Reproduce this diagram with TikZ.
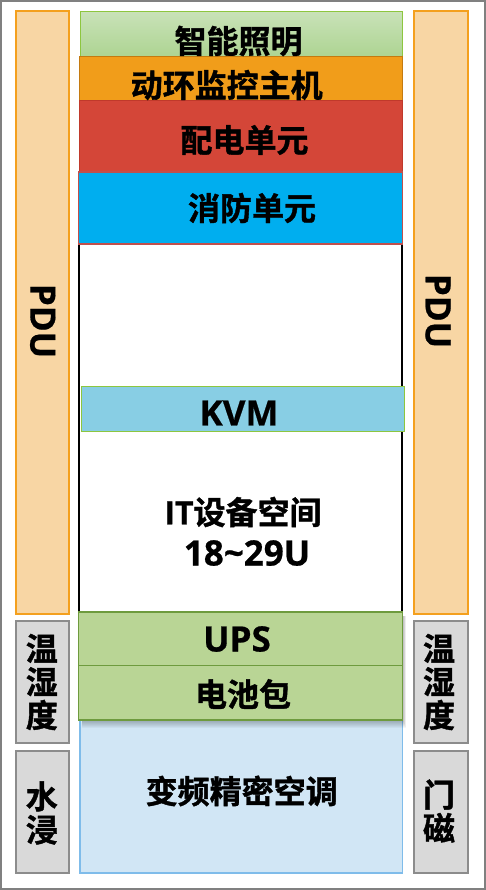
\documentclass[tikz,border=0pt]{standalone}
\usepackage{fontspec}
\newfontfamily\cjk{Noto Sans CJK SC}[BoldFont={Noto Sans CJK SC Bold}, BoldFeatures={FakeBold=1.2}]
\newfontfamily\lat{Open Sans}[BoldFeatures={FakeBold=0.6}]
\definecolor{pdufill}{HTML}{F8D6A4}
\definecolor{pdudraw}{HTML}{F4A01E}
\definecolor{grayfill}{HTML}{D9D9D9}
\definecolor{graydraw}{HTML}{8C8C8C}
\definecolor{lighttop}{HTML}{C9E2B8}
\definecolor{lightbot}{HTML}{ADD492}
\definecolor{lightdraw}{HTML}{8DC63F}
\definecolor{monfill}{HTML}{F19D1A}
\definecolor{mondraw}{HTML}{C47A10}
\definecolor{pdfill}{HTML}{D44638}
\definecolor{pddraw}{HTML}{C0392B}
\definecolor{firefill}{HTML}{00AEEF}
\definecolor{firedraw}{HTML}{C0504D}
\definecolor{kvmfill}{HTML}{88CEE4}
\definecolor{upsfill}{HTML}{B9D595}
\definecolor{upsdraw}{HTML}{6E9B3E}
\definecolor{acfill}{HTML}{D1E6F5}
\definecolor{acdraw}{HTML}{7FBCEA}
\begin{document}
\begin{tikzpicture}[x=1pt,y=-1pt,
  cjkt/.style={font=\cjk\bfseries\fontsize{32}{33.3}\selectfont, inner sep=0pt},
  latt/.style={font=\lat\bfseries\fontsize{35}{38}\selectfont, inner sep=0pt},
  vtext/.style={font=\cjk\bfseries\fontsize{32}{33.3}\selectfont, inner sep=0pt, align=center},
  pdubox/.style={fill=pdufill, draw=pdudraw, line width=2pt},
  graybox/.style={fill=grayfill, draw=graydraw, line width=2pt},
  upsbox/.style={fill=upsfill, draw=upsdraw, line width=1.5pt}]
\useasboundingbox (0,0) rectangle (486,890);
\fill[white] (0,0) rectangle (486,890);
\draw[color=gray, line width=2pt] (1,1) rectangle (485,889);
% side boxes
\draw[pdubox] (16,11) rectangle (69,614);
\draw[pdubox] (414,11) rectangle (468,614);
\draw[graybox] (16,621) rectangle (69,743);
\draw[graybox] (16,751) rectangle (69,873);
\draw[graybox] (413.5,621) rectangle (467.5,743);
\draw[graybox] (413.5,751) rectangle (467.5,873);
% IT space
\draw[black, line width=1.5pt] (79,243) rectangle (402,612);
% top stack
\shade[top color=lighttop, bottom color=lightbot] (80,11.3) rectangle (402.7,56.7);
\draw[lightdraw, line width=1pt] (80,11.3) rectangle (402.7,56.7);
\draw[fill=monfill, draw=mondraw, line width=1.5pt] (79.3,56.7) rectangle (402.7,100.7);
\draw[fill=pdfill, draw=pddraw, line width=1.5pt] (79.7,100.7) rectangle (402.7,172);
\draw[fill=firefill, draw=firedraw, line width=1.5pt] (78.7,172) rectangle (402.3,244);
\draw[fill=kvmfill, draw=lightdraw, line width=1pt] (81,386) rectangle (404.3,431.7);
% bottom
\draw[fill=acfill, draw=acdraw, line width=1.5pt] (80,720) rectangle (402.7,873);
\foreach \i in {1,...,8}
  \fill[black, opacity=0.035] (82,616) rectangle (403+0.4*\i,720+\i);
\draw[upsbox] (78.7,612) rectangle (402.3,665.7);
\draw[upsbox] (78.7,665.7) rectangle (402.3,720);
% texts
\node[cjkt] (t1) at (238.5,41) {智能照明};
\node[cjkt] (t2) at (226.7,85) {动环监控主机};
\node[cjkt] (t3) at (244.5,140) {配电单元};
\node[cjkt] (t4) at (252,208) {消防单元};
\node[latt] (t5) at (239,413) {KVM};
\node[cjkt] (t6) at (243,512) {{\lat IT}设备空间};
\node[latt] (t7) at (247,553) {18\textasciitilde 29U};
\node[latt] (t8) at (237,639) {UPS};
\node[cjkt] (t9) at (243,694) {电池包};
\node[cjkt] (t10) at (241.7,791) {变频精密空调};
\node[latt, rotate=-90] (t11) at (42.7,321) {PDU};
\node[latt, rotate=-90] (t12) at (438,311) {PDU};
\node[vtext] (t13) at (41.8,682) {温\\湿\\度};
\node[vtext] (t14) at (41.8,813) {水\\浸};
\node[vtext] (t15) at (439,682) {温\\湿\\度};
\node[vtext] (t16) at (439,811) {门\\磁};
\end{tikzpicture}
\end{document}
